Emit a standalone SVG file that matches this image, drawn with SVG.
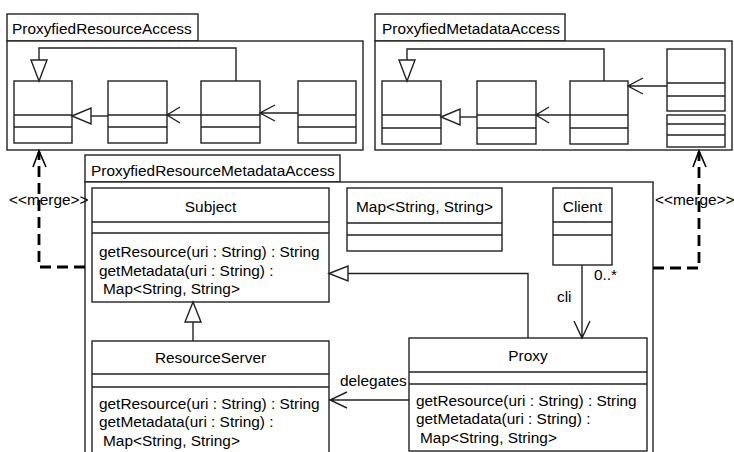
<svg xmlns="http://www.w3.org/2000/svg" width="734" height="452" viewBox="0 0 734 452">
<style>
.b{fill:#fff;stroke:#222;stroke-width:1.4}
.l{fill:none;stroke:#222;stroke-width:1.4}
.tri{fill:#fff;stroke:#222;stroke-width:1.4}
.d{fill:none;stroke:#000;stroke-width:2.8;stroke-dasharray:11 6}
.m{fill:none;stroke:#000;stroke-width:1.6}
text{font-family:"Liberation Sans",Arial,sans-serif;font-size:15.4px;fill:#000}
.c{text-anchor:middle}
</style>
<rect width="734" height="452" fill="#fff"/>

<g id="pkg-resource">
<rect class="b" x="7" y="14" width="191" height="27"/>
<text x="12" y="34">ProxyfiedResourceAccess</text>
<rect class="b" x="7" y="41" width="356" height="109"/>
<g id="r1"><rect class="b" x="14" y="81" width="58" height="62"/><path class="l" d="M14 115H72M14 127H72"/></g>
<g id="r2"><rect class="b" x="108" y="81" width="59" height="62"/><path class="l" d="M108 115H167M108 127H167"/></g>
<g id="r3"><rect class="b" x="201" y="81" width="59" height="62"/><path class="l" d="M201 115H260M201 127H260"/></g>
<g id="r4"><rect class="b" x="298" y="81" width="58" height="62"/><path class="l" d="M298 115H356M298 127H356"/></g>
</g>

<g id="pkg-metadata">
<rect class="b" x="375" y="14" width="190" height="27"/>
<text x="382" y="34">ProxyfiedMetadataAccess</text>
<rect class="b" x="375" y="41" width="357" height="109"/>
<g id="m1"><rect class="b" x="382" y="81" width="59" height="63"/><path class="l" d="M382 115H441M382 128H441"/></g>
<g id="m2"><rect class="b" x="477" y="81" width="59" height="63"/><path class="l" d="M477 115H536M477 128H536"/></g>
<g id="m3"><rect class="b" x="570" y="81" width="58" height="63"/><path class="l" d="M570 115H628M570 128H628"/></g>
<g id="m4"><rect class="b" x="667" y="49" width="58" height="62"/><path class="l" d="M667 83H725M667 96H725"/></g>
<g id="m5"><rect class="b" x="667" y="115" width="58" height="32"/><path class="l" d="M667 124H725M667 135H725"/></g>
</g>

<g id="pkg-main">
<rect class="b" x="85" y="155" width="255" height="27"/>
<text x="91" y="176">ProxyfiedResourceMetadataAccess</text>
<rect class="b" x="85" y="182" width="568" height="290"/>
</g>

<g id="subject">
<rect class="b" x="92" y="188" width="237" height="114"/>
<path class="l" d="M92 222H329M92 233H329"/>
<text class="c" x="210.5" y="212">Subject</text>
<text x="99" y="257">getResource(uri : String) : String</text>
<text x="99" y="276">getMetadata(uri : String) :</text>
<text x="103" y="294">Map&lt;String, String&gt;</text>
</g>

<g id="map">
<rect class="b" x="347" y="188" width="155" height="63"/>
<path class="l" d="M347 223H502M347 235H502"/>
<text class="c" x="424.5" y="212">Map&lt;String, String&gt;</text>
</g>

<g id="client">
<rect class="b" x="553" y="188" width="59" height="77"/>
<path class="l" d="M553 222H612M553 235H612"/>
<text class="c" x="582.5" y="212">Client</text>
</g>

<g id="resourceserver">
<rect class="b" x="92" y="341" width="237" height="130"/>
<path class="l" d="M92 374H329M92 387H329"/>
<text class="c" x="210.5" y="363">ResourceServer</text>
<text x="99" y="409">getResource(uri : String) : String</text>
<text x="99" y="427">getMetadata(uri : String) :</text>
<text x="103" y="446">Map&lt;String, String&gt;</text>
</g>

<g id="proxy">
<rect class="b" x="409" y="338" width="238" height="113"/>
<path class="l" d="M409 372H647M409 384H647"/>
<text class="c" x="528" y="361">Proxy</text>
<text x="416" y="406">getResource(uri : String) : String</text>
<text x="416" y="424">getMetadata(uri : String) :</text>
<text x="420" y="443">Map&lt;String, String&gt;</text>
</g>

<g id="connectors">
<path class="l" d="M236 81V48H39V60"/>
<polygon class="tri" points="31,60 47,60 39,81"/>
<path class="l" d="M108 116H91"/>
<polygon class="tri" points="72,116 91,108 91,124"/>
<path class="l" d="M201 115H167M180 107L167 115L180 123"/>
<path class="l" d="M298 113H260M275 105L260 113L275 121"/>
<path class="l" d="M604 81V49H407V60"/>
<polygon class="tri" points="399,60 415,60 407,81"/>
<path class="l" d="M477 117H460"/>
<polygon class="tri" points="441,117 460,109 460,125"/>
<path class="l" d="M570 115H536M549 107L536 115L549 123"/>
<path class="l" d="M667 86H628M643 78L628 86L643 94"/>
<path class="l" d="M193 341V322"/>
<polygon class="tri" points="193,302 185,322 201,322"/>
<path class="l" d="M528 338V273.5H348"/>
<polygon class="tri" points="329,273.5 348,266 348,281"/>
<path class="l" d="M582 265V338M574 321L582 338L590 321"/>
<text x="594" y="280">0..*</text>
<text x="557" y="302">cli</text>
<path class="l" d="M409 400H330M347 392L330 400L347 408"/>
<text x="340" y="386">delegates</text>
<path class="d" d="M85 267H39V152"/>
<path class="m" d="M33 167L39 151L46 167"/>
<text x="9" y="205">&lt;&lt;merge&gt;&gt;</text>
<path class="d" d="M653 268H699V152"/>
<path class="m" d="M693 167L699 151L706 167"/>
<text x="655" y="205">&lt;&lt;merge&gt;&gt;</text>
</g>
</svg>
